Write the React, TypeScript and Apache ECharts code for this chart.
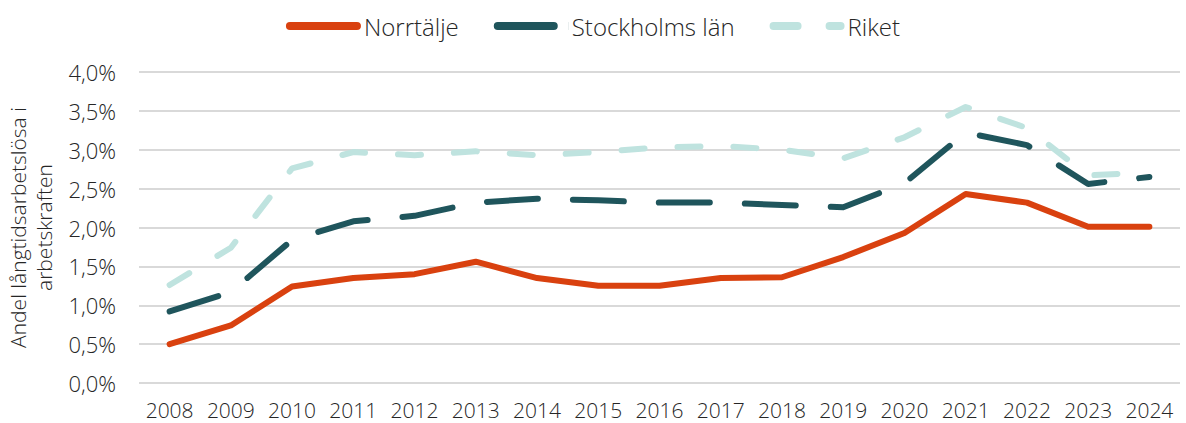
import React, { useEffect, useRef } from "react";
import * as echarts from "echarts";

const years = ["2008","2009","2010","2011","2012","2013","2014","2015","2016","2017","2018","2019","2020","2021","2022","2023","2024"];
const norrtalje = [0.50,0.74,1.24,1.35,1.40,1.56,1.35,1.25,1.25,1.35,1.36,1.62,1.93,2.43,2.32,2.01,2.01];
const stockholm = [0.92,1.17,1.84,2.08,2.15,2.32,2.37,2.35,2.32,2.32,2.29,2.26,2.57,3.22,3.06,2.56,2.65];
const riket = [1.26,1.74,2.76,2.97,2.93,2.98,2.93,2.97,3.03,3.05,3.00,2.89,3.16,3.55,3.28,2.67,2.71];

const FONT = "Open Sans";
const W = 300;

const solidIcon = "path://M4,0 L71,0 A4,4 0 0 1 71,8 L4,8 A4,4 0 0 1 4,0 Z";
const dashIcon = "path://M4,0 L60,0 A4,4 0 0 1 60,8 L4,8 A4,4 0 0 1 4,0 Z M74.9,0 L75,0 L75,8 L74.9,8 Z";
const shortDashIcon = "path://M4,0 L28,0 A4,4 0 0 1 28,8 L4,8 A4,4 0 0 1 4,0 Z M60,0 L71,0 A4,4 0 0 1 71,8 L60,8 A4,4 0 0 1 60,0 Z";

export default function App() {
  const ref = useRef<HTMLDivElement>(null);
  useEffect(() => {
    const chart = echarts.init(ref.current!, null, { renderer: "svg" });
    chart.setOption({
      animation: false,
      textStyle: { fontFamily: FONT, fontWeight: W },
      legend: {
        top: 9,
        left: "center",
        itemWidth: 75,
        itemHeight: 8,
        itemGap: 35,
        textStyle: { fontSize: 24, color: "#262626", fontFamily: FONT, fontWeight: W, padding: [0, 0, 0, -2] },
        data: [
          { name: "Norrtälje", icon: solidIcon },
          { name: "Stockholms län", icon: dashIcon },
          { name: "Riket", icon: shortDashIcon },
        ],
      },
      grid: { left: 139, right: 6, top: 72, bottom: 40, containLabel: false, outerBoundsMode: "none" },
      xAxis: {
        type: "category",
        data: years,
        boundaryGap: true,
        axisLine: { show: false },
        axisTick: { show: false },
        axisLabel: { interval: 0, fontSize: 21, color: "#262626", margin: 16, fontFamily: FONT, fontWeight: W },
      },
      yAxis: {
        type: "value",
        min: 0,
        max: 4,
        interval: 0.5,
        name: "Andel långtidsarbetslösa i\narbetskraften",
        nameLocation: "middle",
        nameRotate: 90,
        nameGap: 82,
        nameTextStyle: { fontSize: 21, color: "#262626", fontFamily: FONT, fontWeight: W, lineHeight: 26 },
        axisLabel: {
          fontSize: 22,
          color: "#262626",
          margin: 23,
          fontFamily: FONT,
          fontWeight: W,
          formatter: (v: number) => v.toFixed(1).replace(".", ",") + "%",
        },
        splitLine: { lineStyle: { color: "#d9d9d9", width: 2 } },
        axisLine: { show: false },
        axisTick: { show: false },
      },
      series: [
        {
          name: "Norrtälje",
          type: "line",
          data: norrtalje,
          symbol: "none",
          lineStyle: { color: "#D9410F", width: 6, cap: "round", join: "round" },
          itemStyle: { color: "#D9410F" },
          z: 3,
        },
        {
          name: "Stockholms län",
          type: "line",
          data: stockholm,
          symbol: "none",
          lineStyle: { color: "#1F555C", width: 6, type: [51, 35], cap: "round", join: "round" },
          itemStyle: { color: "#1F555C" },
          z: 2,
        },
        {
          name: "Riket",
          type: "line",
          data: riket,
          symbol: "none",
          lineStyle: { color: "#BFE3DF", width: 6, type: [23, 33], cap: "round", join: "round" },
          itemStyle: { color: "#BFE3DF" },
          z: 1,
        },
      ],
    });
    return () => chart.dispose();
  }, []);
  return <div ref={ref} style={{ position: "absolute", left: 0, top: 0, width: 1186, height: 423 }} />;
}
